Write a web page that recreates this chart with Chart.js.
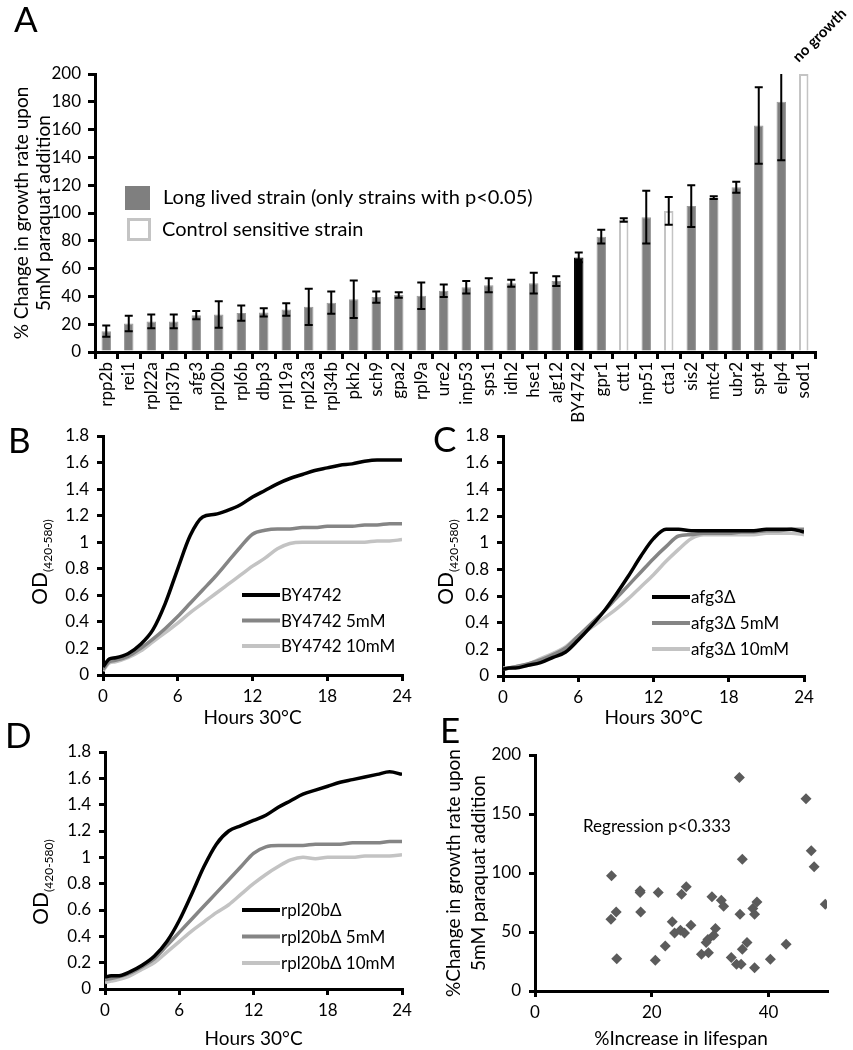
<!DOCTYPE html>
<html><head><meta charset="utf-8">
<script src="https://cdn.jsdelivr.net/npm/chart.js@4/dist/chart.umd.min.js"></script>
<style>
body{margin:0;background:#fff;width:853px;height:1050px;position:relative;overflow:hidden;font-family:Lato,"Open Sans",sans-serif;color:#000;}
canvas{position:absolute;}
.pl{position:absolute;font-size:35px;line-height:35px;}
.od{position:absolute;width:120px;height:30px;line-height:30px;text-align:center;font-size:21px;transform:rotate(-90deg);transform-origin:50% 50%;white-space:nowrap;}
.od sub{font-size:12px;}
</style></head><body>
<canvas id="cA" width="853" height="440" style="left:0;top:0;width:853px;height:440px"></canvas>
<canvas id="cB" width="426" height="370" style="left:0;top:380px;width:426px;height:370px"></canvas>
<canvas id="cC" width="427" height="370" style="left:426px;top:380px;width:427px;height:370px"></canvas>
<canvas id="cD" width="426" height="350" style="left:0;top:700px;width:426px;height:350px"></canvas>
<canvas id="cE" width="427" height="350" style="left:426px;top:700px;width:427px;height:350px"></canvas>
<div class="pl" style="left:14px;top:1px">A</div>
<div class="pl" style="left:8px;top:422px">B</div>
<div class="pl" style="left:433px;top:421px">C</div>
<div class="pl" style="left:5px;top:717px">D</div>
<div class="pl" style="left:440px;top:712px">E</div>
<div class="od" style="left:-21px;top:547px">OD<sub>(420-580)</sub></div>
<div class="od" style="left:385px;top:547px">OD<sub>(420-580)</sub></div>
<div class="od" style="left:-20px;top:867px">OD<sub>(420-580)</sub></div>
<script>
// ---------- Panel A data ----------
const strains = ['rpp2b','rei1','rpl22a','rpl37b','afg3','rpl20b','rpl6b','dbp3','rpl19a','rpl23a','rpl34b','pkh2','sch9','gpa2','rpl9a','ure2','inp53','sps1','idh2','hse1','alg12','BY4742','gpr1','ctt1','inp51','cta1','sis2','mtc4','ubr2','spt4','elp4','sod1'];
const growthChange = [15,20.5,22,22,26.5,27,28,28.5,30.5,32.5,35.5,38,39.5,41,40.5,44,46.5,48,49.5,49.5,51,68,83,95,97,101.5,105,111,118.5,163,180,200];
const growthError = [4,5.5,5,5,3,9.5,5.5,3,4.5,13,8,13.5,4,2,9.5,4.5,4.5,5,2.5,7.5,3.5,3.5,5,1.3,19,10,15,1,4,27.5,42,0];
const strainType = ['long','long','long','long','long','long','long','long','long','long','long','long','long','long','long','long','long','long','long','long','long','wt','long','control','long','control','long','long','long','long','long','control'];
const legendLabelsA = ['Long lived strain (only strains with p<0.05)','Control sensitive strain'];
const yTitleA = ['% Change in growth rate upon','5mM paraquat addition'];

// ---------- Panels B-D data ----------
const hours = [0,0.5,1,2,3,4,5,6,7,8,9,10,11,12,13,14,15,16,17,18,19,20,21,22,23,24];
const by4742      = [0.06,0.12,0.13,0.16,0.23,0.34,0.54,0.8,1.05,1.19,1.21,1.24,1.28,1.34,1.39,1.44,1.48,1.51,1.54,1.56,1.58,1.59,1.61,1.62,1.62,1.62];
const by4742_5mM  = [0.04,0.1,0.11,0.14,0.2,0.27,0.35,0.44,0.54,0.64,0.74,0.85,0.96,1.06,1.09,1.1,1.1,1.11,1.11,1.12,1.12,1.12,1.13,1.13,1.14,1.14];
const by4742_10mM = [0.03,0.09,0.1,0.13,0.18,0.25,0.32,0.39,0.47,0.54,0.61,0.68,0.75,0.82,0.88,0.95,0.99,1.0,1.0,1.0,1.0,1.0,1.0,1.01,1.01,1.02];
const afg3      = [0.05,0.06,0.06,0.08,0.1,0.14,0.18,0.27,0.37,0.48,0.61,0.75,0.9,1.03,1.1,1.1,1.09,1.09,1.09,1.09,1.09,1.09,1.1,1.1,1.1,1.08];
const afg3_5mM  = [0.05,0.06,0.07,0.09,0.12,0.16,0.21,0.3,0.39,0.48,0.58,0.68,0.78,0.88,0.97,1.05,1.06,1.07,1.07,1.07,1.08,1.08,1.09,1.09,1.1,1.1];
const afg3_10mM = [0.06,0.06,0.07,0.09,0.13,0.17,0.22,0.3,0.36,0.43,0.5,0.58,0.67,0.76,0.86,0.95,1.03,1.06,1.06,1.06,1.06,1.06,1.07,1.07,1.07,1.06];
const rpl20b      = [0.09,0.1,0.1,0.13,0.18,0.25,0.36,0.52,0.72,0.93,1.1,1.2,1.24,1.28,1.32,1.38,1.43,1.48,1.51,1.54,1.57,1.59,1.61,1.63,1.65,1.63];
const rpl20b_5mM  = [0.07,0.08,0.09,0.12,0.17,0.23,0.33,0.43,0.53,0.63,0.73,0.83,0.93,1.03,1.08,1.09,1.09,1.09,1.1,1.1,1.1,1.11,1.11,1.11,1.12,1.12];
const rpl20b_10mM = [0.05,0.06,0.07,0.1,0.15,0.2,0.28,0.36,0.44,0.51,0.58,0.64,0.72,0.8,0.87,0.93,0.98,1.0,0.99,1.0,1.0,1.0,1.01,1.01,1.01,1.02];
const odTicks = [0,0.2,0.4,0.6,0.8,1,1.2,1.4,1.6,1.8];
const hourTicks = [0,6,12,18,24];

// ---------- Panel E data ----------
const lifespanIncrease = [35.0,46.4,13.1,35.5,47.3,47.8,49.7,18.0,18.0,21.1,25.9,25.1,30.3,31.9,32.3,13.9,13.0,18.1,23.5,26.7,23.9,24.9,25.6,30.9,30.6,29.6,29.3,22.3,14.0,20.6,28.5,29.7,35.1,37.3,38.0,37.6,36.3,35.5,33.6,34.5,35.3,37.6,40.3,43.0];
const paraquatChange   = [181,163,97.6,111.7,118.8,105.2,73.6,84.9,83.5,83.5,88.3,82,79.8,77,71.9,67,60.8,67,58.6,55.7,49.2,51.5,49.2,52.9,47.2,43.6,41,38.2,27.4,26,31.1,32.5,65,69.9,75.5,65,41,35.4,28.3,22.6,22.6,19.8,26.9,39.6];
const yTitleE = ['%Change in growth rate upon','5mM paraquat addition'];

// ---------- common ----------
const FONT = 'Lato, "Open Sans", sans-serif';
Chart.defaults.font.family = FONT;
Chart.defaults.color = '#000';
Chart.defaults.animation = false;

function axisLines(len){
  return {
    grid:{drawOnChartArea:false, drawTicks:true, tickLength:len, color:'#000', lineWidth:3},
    border:{display:true, color:'#000', width:3}
  };
}
const fmt = v => String(Math.round(v*10)/10);

// ---------- Panel A ----------
const errorBarsA = {
  id:'errorBarsA',
  afterDatasetsDraw(chart){
    const {ctx} = chart; const xs = chart.scales.x, ys = chart.scales.y;
    ctx.save();
    ctx.strokeStyle = '#000'; ctx.lineWidth = 2;
    growthError.forEach((e,i)=>{
      if(!e) return;
      const v = growthChange[i];
      const x = xs.getPixelForValue(i);
      const hi = v+e, lo = v-e;
      const yT = ys.getPixelForValue(Math.min(hi, ys.max));
      const yB = ys.getPixelForValue(lo);
      ctx.beginPath();
      ctx.moveTo(x,yT); ctx.lineTo(x,yB);
      if(hi <= ys.max){ ctx.moveTo(x-4,yT); ctx.lineTo(x+4,yT); }
      ctx.moveTo(x-4,yB); ctx.lineTo(x+4,yB);
      ctx.stroke();
    });
    ctx.restore();
  },
  afterDraw(chart){
    const ctx = chart.ctx; ctx.save();
    ctx.fillStyle = '#7f7f7f'; ctx.fillRect(125,186,25,24);
    ctx.fillStyle = '#fff'; ctx.strokeStyle = '#c4c4c4'; ctx.lineWidth = 3;
    ctx.fillRect(128.5,219.5,21,20); ctx.strokeRect(128.5,219.5,21,20);
    ctx.fillStyle = '#000'; ctx.font = '20px ' + FONT; ctx.textBaseline = 'middle';
    ctx.fillText(legendLabelsA[0],163,198);
    ctx.fillText(legendLabelsA[1],162,230);
    const xs = chart.scales.x; const i = strains.indexOf('sod1');
    ctx.translate(xs.getPixelForValue(i)-5, chart.chartArea.top-11);
    ctx.rotate(-Math.PI/4);
    ctx.font = 'bold 15px ' + FONT; ctx.textBaseline = 'alphabetic';
    ctx.fillText('no growth',0,0);
    ctx.restore();
  }
};
new Chart(document.getElementById('cA'), {
  type:'bar',
  data:{ labels:strains, datasets:[{
    data:growthChange,
    backgroundColor: strainType.map(t => t==='wt' ? '#000' : t==='control' ? '#ffffff' : '#7f7f7f'),
    borderColor: strainType.map(t => t==='wt' ? '#000' : t==='control' ? '#c4c4c4' : '#9a9a9a'),
    borderWidth: strainType.map(t => t==='control' ? 2 : 1),
    barPercentage:0.42, categoryPercentage:1
  }]},
  options:{
    responsive:false, animation:false,
    layout:{padding:{top:74,right:38,left:0,bottom:0}},
    plugins:{legend:{display:false}, tooltip:{enabled:false}},
    scales:{
      x:{ ...axisLines(7), afterFit(s){ s.height = 88; },
          ticks:{minRotation:90,maxRotation:90,autoSkip:false,font:{size:17},color:'#000',padding:3} },
      y:{ ...axisLines(7), min:0, max:200, afterFit(s){ s.width = 95; },
          ticks:{stepSize:20,font:{size:17},color:'#000',padding:7},
          title:{display:true,text:yTitleA,font:{size:19,lineHeight:1.2},color:'#000',padding:{top:10,bottom:0}} }
    }
  },
  plugins:[errorBarsA]
});

// ---------- Panels B-D ----------
const lineKey = {
  id:'lineKey',
  afterDraw(chart, args, opts){
    if(opts.x === undefined) return;
    const ctx = chart.ctx; ctx.save();
    ctx.font = '17px ' + FONT; ctx.textBaseline = 'middle'; ctx.fillStyle = '#000';
    chart.data.datasets.forEach((ds,i)=>{
      const y = opts.y + i*opts.dy;
      ctx.strokeStyle = ds.borderColor; ctx.lineWidth = 4;
      ctx.beginPath(); ctx.moveTo(opts.x,y); ctx.lineTo(opts.x+opts.len,y); ctx.stroke();
      ctx.fillText(ds.label, opts.x+opts.len+1, y+1);
    });
    ctx.restore();
  }
};
function growthChart(id, names, series, pad, yW, xH, titlePad, key){
  const colors = ['#000000','#858585','#c3c3c3'];
  new Chart(document.getElementById(id), {
    type:'line',
    data:{ datasets: series.map((s,k)=>({
      label:names[k], data:hours.map((h,j)=>({x:h,y:s[j]})),
      borderColor:colors[k], borderWidth:3.5, pointRadius:0, cubicInterpolationMode:'monotone', fill:false
    }))},
    options:{
      responsive:false, animation:false,
      layout:{padding:pad},
      plugins:{legend:{display:false}, tooltip:{enabled:false}, lineKey:key},
      scales:{
        x:{ type:'linear', min:0, max:24, ...axisLines(6), afterFit(s){ s.height = xH; },
            afterBuildTicks(s){ s.ticks = hourTicks.map(v=>({value:v})); },
            ticks:{font:{size:17},color:'#000',padding:5},
            title:{display:true,text:'Hours 30°C',font:{size:19,lineHeight:1.2},color:'#000',padding:{top:0,bottom:titlePad}} },
        y:{ min:0, max:1.8, ...axisLines(6), afterFit(s){ s.width = yW; },
            afterBuildTicks(s){ s.ticks = odTicks.map(v=>({value:v})); },
            ticks:{font:{size:17},color:'#000',padding:8,callback:fmt} }
      }
    },
    plugins:[lineKey]
  });
}
growthChart('cB',['BY4742','BY4742 5mM','BY4742 10mM'],[by4742,by4742_5mM,by4742_10mM],
  {top:56,right:24,left:0,bottom:0},103,75,21,{x:242,y:215,dy:25.5,len:38});
growthChart('cC',['afg3Δ','afg3Δ 5mM','afg3Δ 10mM'],[afg3,afg3_5mM,afg3_10mM],
  {top:56,right:49,left:0,bottom:0},77,74,21,{x:226,y:217,dy:26,len:38});
growthChart('cD',['rpl20bΔ','rpl20bΔ 5mM','rpl20bΔ 10mM'],[rpl20b,rpl20b_5mM,rpl20b_10mM],
  {top:52,right:24,left:0,bottom:0},105,61,0,{x:242,y:210,dy:26.5,len:38});

// ---------- Panel E ----------
const noteE = {
  id:'noteE',
  afterDraw(chart){
    const ctx = chart.ctx; ctx.save();
    ctx.font = '17px ' + FONT; ctx.fillStyle = '#000'; ctx.textBaseline = 'middle';
    ctx.fillText('Regression p<0.333',157,127);
    ctx.restore();
  }
};
new Chart(document.getElementById('cE'), {
  type:'scatter',
  data:{ datasets:[{
    data: lifespanIncrease.map((x,i)=>({x:x,y:paraquatChange[i]})),
    pointStyle:'rectRot', pointRadius:5.5, backgroundColor:'#5b5b5b', borderColor:'#5b5b5b', borderWidth:0
  }]},
  options:{
    responsive:false, animation:false,
    layout:{padding:{top:55,right:26,left:0,bottom:0}},
    plugins:{legend:{display:false}, tooltip:{enabled:false}},
    scales:{
      x:{ type:'linear', min:0, max:50, ...axisLines(6), afterFit(s){ s.height = 59; },
          ticks:{stepSize:20,includeBounds:false,font:{size:17},color:'#000',padding:5},
          title:{display:true,text:'%Increase in lifespan',font:{size:19,lineHeight:1.2},color:'#000',padding:{top:0,bottom:0}} },
      y:{ min:0, max:200, ...axisLines(6), afterFit(s){ s.width = 109; },
          ticks:{stepSize:50,font:{size:17},color:'#000',padding:8},
          title:{display:true,text:yTitleE,font:{size:19,lineHeight:1.3},color:'#000',padding:{top:16,bottom:0}} }
    }
  },
  plugins:[noteE]
});
</script>
</body></html>
